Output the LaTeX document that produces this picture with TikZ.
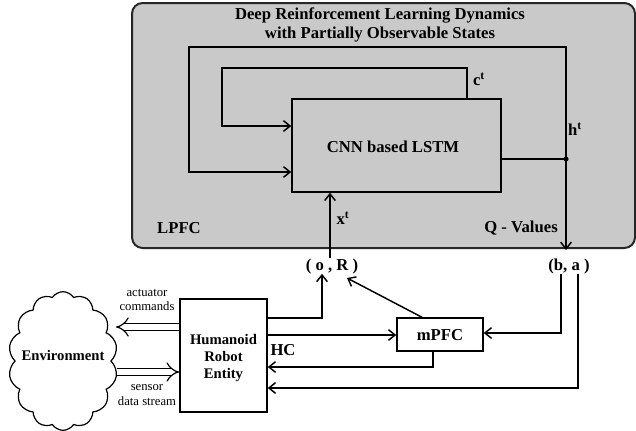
\documentclass[tikz,border=0pt]{standalone}
\usepackage{fontspec}
\setmainfont{Liberation Serif}
\usetikzlibrary{arrows.meta,shapes.symbols}

\begin{document}
\begin{tikzpicture}[x=0.75pt, y=-0.75pt,
  line/.style={line width=1.1pt},
  arr/.style={line width=1.1pt, -{Straight Barb[length=5pt,width=8pt]}},
  dbl/.style={double, double distance=4.2pt, line width=0.9pt, -{Implies[length=6pt]}},
  blk/.style={draw, line width=1.1pt, inner sep=0pt},
  lbl/.style={font=\bfseries\fontsize{12.5}{14}\selectfont, inner sep=0pt},
  note/.style={font=\fontsize{9.5}{11}\selectfont, align=center, inner sep=0pt}]
\useasboundingbox (0,0) rectangle (636,430);
\draw[fill=black!21, draw=black!85, line width=1.5pt, rounded corners=8pt] (132,3) rectangle (635,248);
\node[lbl, align=center] (title) at (380,25) {Deep Reinforcement Learning Dynamics\\with Partially Observable States};
\node[blk, fill=black!21, minimum width=156.75pt, minimum height=69.75pt] (lstm) at (396.5,145.5) {};
\node[lbl] (lstmtxt) at (393,147) {CNN based LSTM};
\node[lbl] (lpfc) at (179,228) {LPFC};
\node[lbl] (qval) at (521,228) {Q - Values};
\node[lbl] (ct) at (479,79) {c\textsuperscript{t}};
\node[lbl] (ht) at (575,129) {h\textsuperscript{t}};
\node[lbl] (xt) at (343,218) {x\textsuperscript{t}};
\node[lbl] (oR) at (332,266) {( o , R )};
\node[lbl] (ba) at (569,266) {(b, a )};
\node[blk, minimum width=65.25pt, minimum height=84.75pt] (hre) at (223.5,355.5) {};
\node[font=\bfseries\fontsize{11}{13}\selectfont, align=center] (hretxt) at (223.5,358) {Humanoid\\Robot\\Entity};
\node[lbl] (hc) at (283,350) {HC};
\node[blk, minimum width=64.5pt, minimum height=24.75pt] (mpfc) at (440,334.5) {};
\node[lbl] (mpfctxt) at (440,335) {mPFC};
\node[cloud, draw, line width=0.9pt, cloud puffs=14, cloud puff arc=115, aspect=0.8,
  minimum width=82pt, minimum height=104pt, inner sep=0pt] (env) at (63,361) {};
\node[font=\bfseries\fontsize{11}{13}\selectfont] (envtxt) at (63,355) {Environment};
\node[note] (act) at (147,300) {actuator\\commands};
\node[note] (sen) at (147,395) {sensor\\data stream};
\coordinate (hdot) at (566,159);
\coordinate (actw) at (116,327);
\coordinate (senw) at (117,372);
% recurrent loops of the LSTM
\draw[line] (hdot -| lstm.east) -- (hdot);
\fill (hdot) circle (2.6);
\draw[arr] (hdot) -- (566,47) -- (189,47) -- (189,172) -- (lstm.west |- 0,172);
\draw[arr] (lstm.north -| 467,0) -- (467,68) -- (222,68) -- (222,126) -- (lstm.west |- 0,126);
\draw[arr] (hdot) -- (hdot |- 0,250);
\draw[arr] (oR.north -| 330,0) -- (lstm.south -| 330,0);
% lower loop
\draw[arr] (hre.east |- 0,318) -- (322,318) -- (oR.south -| 322,0);
\draw[arr] (mpfc.north -| 422,0) -- (347,278);
\draw[arr] (hre.east |- 0,335) -- (mpfc.west |- 0,335);
\draw[arr] (ba.south -| 561,0) -- (561,333) -- (mpfc.east |- 0,333);
\draw[arr] (mpfc.south -| 433,0) -- (433,367) -- (hre.east |- 0,367);
\draw[arr] (ba.south -| 578,0) -- (578,388) -- (hre.east |- 0,388);
\draw[dbl] (actw -| hre.west) -- (actw);
\draw[dbl] (senw) -- (senw -| hre.west);
\end{tikzpicture}
\end{document}
